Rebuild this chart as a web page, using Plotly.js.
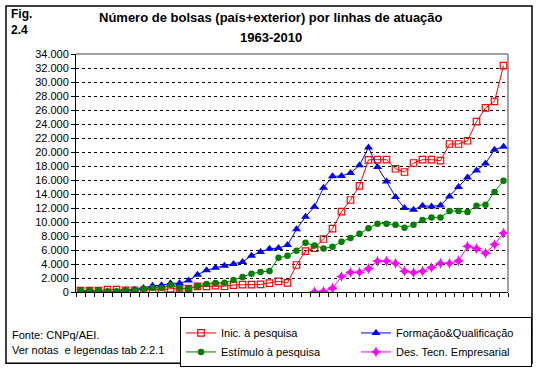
<!DOCTYPE html>
<html>
<head>
<meta charset="utf-8">
<script src="https://cdn.plot.ly/plotly-3.0.1.min.js"></script>
<style>
html,body{margin:0;padding:0;background:#fff;}
#chart{width:541px;height:371px;}
</style>
</head>
<body>
<div id="chart"></div>
<script>
// ---- Data ----
var years = [1963,1964,1965,1966,1967,1968,1969,1970,1971,1972,
             1973,1974,1975,1976,1977,1978,1979,1980,1981,1982,
             1983,1984,1985,1986,1987,1988,1989,1990,1991,1992,
             1993,1994,1995,1996,1997,1998,1999,2000,2001,2002,
             2003,2004,2005,2006,2007,2008,2009,2010];

var inicPesquisa = [190,190,190,330,330,230,230,230,250,330,
                    470,470,480,800,800,900,820,990,1060,1060,
                    1080,1280,1530,1290,3860,5850,6280,7570,9040,11470,
                    13140,15170,18880,18900,18900,17610,17140,18430,18900,18900,
                    18760,21140,21140,21610,24330,26290,27230,32330];

var formacaoQualificacao = [60,60,60,60,60,200,330,570,900,950,
                    1250,1250,1630,2470,3090,3470,3760,4000,4300,5190,
                    5730,6190,6280,6700,8950,10750,12190,14900,16520,16570,
                    17000,18100,20660,17850,15800,13570,12000,11760,12330,12230,
                    12370,13660,15000,16370,17370,18370,20330,20760];

var estimuloPesquisa = [190,190,190,90,90,230,230,430,570,570,
                    1000,570,450,850,1140,1290,1310,1710,2140,2610,
                    2860,3000,4880,5190,5880,7040,6660,6230,6470,7190,
                    7710,8310,9110,9760,9760,9610,9190,9610,10280,10660,
                    10660,11570,11570,11430,12330,12470,14290,15900];

var desTecnEmpresarial = [null,null,null,null,null,null,null,null,null,null,
                    null,null,null,null,null,null,null,null,null,null,
                    null,null,null,null,null,null,30,100,540,2210,
                    2810,2810,3330,4420,4420,4110,2980,2780,2980,3500,
                    4090,4090,4440,6520,6190,5550,6780,8430];

var seriesNames = ["Inic. à pesquisa", "Formação&Qualificação", "Estímulo à pesquisa", "Des. Tecn. Empresarial"];
var yTickVals = [0,2000,4000,6000,8000,10000,12000,14000,16000,18000,20000,22000,24000,26000,28000,30000,32000,34000];

// ---- Layout helpers (pixel -> paper) ----
var L = 76, R = 508, T = 54, B = 292.5;
function px(x){ return (x - L) / (R - L); }
function py(y){ return (B - y) / (B - T); }

var FONT = "Liberation Sans, Arial, sans-serif";

var xBounds = [];
for (var i = 0; i <= years.length; i++) xBounds.push(years[0] - 0.5 + i);

var traces = [
  {x: years, y: inicPesquisa, name: seriesNames[0], type: "scatter", mode: "lines+markers",
   line: {color: "#FF0000", width: 1},
   marker: {symbol: "square-open", size: 6.5, color: "#FF0000", line: {width: 1.2, color: "#FF0000"}}},
  {x: years, y: formacaoQualificacao, name: seriesNames[1], type: "scatter", mode: "lines+markers",
   line: {color: "#0000FF", width: 1},
   marker: {symbol: "triangle-up", size: 8, color: "#0000FF"}},
  {x: years, y: estimuloPesquisa, name: seriesNames[2], type: "scatter", mode: "lines+markers",
   line: {color: "#008000", width: 1},
   marker: {symbol: "circle", size: 6.5, color: "#008000"}},
  {x: years, y: desTecnEmpresarial, name: seriesNames[3], type: "scatter", mode: "lines+markers",
   line: {color: "#FF00FF", width: 1},
   marker: {symbol: "star-diamond", size: 8, color: "#FF00FF"}}
];

var layout = {
  width: 541, height: 371,
  margin: {l: L, r: 541 - R, t: T, b: 371 - B, pad: 0, autoexpand: false},
  paper_bgcolor: "#fff", plot_bgcolor: "#fff",
  separators: ",.",
  font: {family: FONT, size: 11, color: "#000"},
  showlegend: true,
  xaxis: {
    type: "linear", range: [years[0] - 0.5, years[years.length - 1] + 0.5],
    tickmode: "array", tickvals: xBounds, showticklabels: false,
    ticks: "outside", ticklen: 4, tickcolor: "#000", tickwidth: 1,
    showgrid: false, zeroline: false,
    showline: true, linecolor: "#000", linewidth: 1, fixedrange: true
  },
  yaxis: {
    range: [0, 34000], tickmode: "array", tickvals: yTickVals, tickformat: ",d",
    ticks: "outside", ticklen: 4, tickcolor: "#000", tickwidth: 1,
    tickfont: {family: FONT, size: 11, color: "#000"},
    showgrid: true, gridcolor: "#000", gridwidth: 1, griddash: "3px,3px",
    zeroline: false, showline: true, linecolor: "#000", linewidth: 1, fixedrange: true
  },
  legend: {
    orientation: "h", x: px(180), y: py(318), xanchor: "left", yanchor: "top",
    entrywidth: 130, entrywidthmode: "pixels",
    bgcolor: "#fff", bordercolor: "#000", borderwidth: 1,
    font: {family: FONT, size: 11, color: "#000"},
    traceorder: "normal", itemclick: false, itemdoubleclick: false
  },
  shapes: [
    {type: "rect", xref: "paper", yref: "paper", x0: px(6), x1: px(532), y0: py(364), y1: py(6),
     line: {color: "#000", width: 1.5}, fillcolor: "rgba(0,0,0,0)", layer: "below"},
    {type: "line", xref: "paper", yref: "paper", x0: 0, x1: 1, y0: 1, y1: 1,
     line: {color: "#808080", width: 1.5}},
    {type: "line", xref: "paper", yref: "paper", x0: 1, x1: 1, y0: 0, y1: 1,
     line: {color: "#808080", width: 1.5}}
  ],
  annotations: [
    {text: "<b>Número de bolsas (país+exterior) por linhas de atuação</b>", xref: "paper", yref: "paper",
     x: px(271), y: py(17), xanchor: "center", yanchor: "middle", showarrow: false,
     font: {family: FONT, size: 13, color: "#000"}},
    {text: "<b>1963-2010</b>", xref: "paper", yref: "paper",
     x: px(271), y: py(37), xanchor: "center", yanchor: "middle", showarrow: false,
     font: {family: FONT, size: 13, color: "#000"}},
    {text: "<b>Fig.</b>", xref: "paper", yref: "paper", x: px(9), y: py(14),
     xanchor: "left", yanchor: "middle", showarrow: false, font: {family: FONT, size: 12, color: "#000"}},
    {text: "<b>2.4</b>", xref: "paper", yref: "paper", x: px(9), y: py(30),
     xanchor: "left", yanchor: "middle", showarrow: false, font: {family: FONT, size: 12, color: "#000"}},
    {text: "Fonte: CNPq/AEI.", xref: "paper", yref: "paper", x: px(10), y: py(336),
     xanchor: "left", yanchor: "middle", showarrow: false, font: {family: FONT, size: 11, color: "#000"}},
    {text: "Ver notas  e legendas tab 2.2.1", xref: "paper", yref: "paper", x: px(10), y: py(351),
     xanchor: "left", yanchor: "middle", showarrow: false, font: {family: FONT, size: 11, color: "#000"}}
  ]
};

Plotly.newPlot("chart", traces, layout, {displayModeBar: false, staticPlot: true});
</script>
</body>
</html>
